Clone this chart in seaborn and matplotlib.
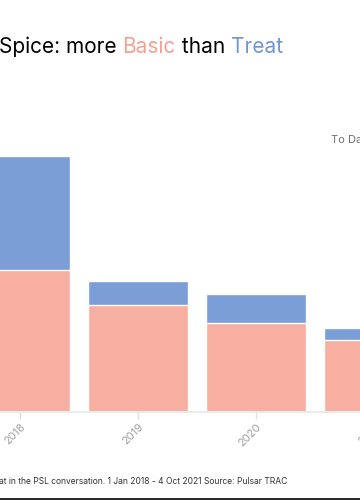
import matplotlib
matplotlib.use("Agg")
import matplotlib.pyplot as plt
from matplotlib.lines import Line2D
import seaborn as sns
import pandas as pd

years = ["2018", "2019", "2020", "2021"]
basic = [141.7, 106.7, 88.7, 71.4]
treat = [114.3, 24.3, 29.3, 12.3]

BASIC_C = "#F7AFA1"
TREAT_C = "#7B9ED6"

sns.set_theme(style="white")
plt.rcParams["font.family"] = ["Inter", "DejaVu Sans"]

df = pd.DataFrame({"year": years, "basic": basic, "treat": treat})
df["total"] = df["basic"] + df["treat"]

W, H = 360, 500
fig = plt.figure(figsize=(W / 100, H / 100), dpi=100)
fig.patch.set_facecolor("white")

# axes placed in pixel geometry (partly outside the canvas, like the cropped reference)
left_px, width_px = -39, 472
bottom_px, height_px = 500 - 411.7, 312
ax = fig.add_axes([left_px / W, bottom_px / H, width_px / W, height_px / H])

sns.barplot(data=df, x="year", y="total", color=TREAT_C, width=0.85,
            saturation=1, edgecolor="white", linewidth=1, ax=ax)
sns.barplot(data=df, x="year", y="basic", color=BASIC_C, width=0.85,
            saturation=1, edgecolor="white", linewidth=1, ax=ax)

ax.set_xlim(-0.5, 3.5)
ax.set_ylim(0, 312)
ax.set_xlabel("")
ax.set_ylabel("")
ax.set_yticks([])
for s in ["top", "right", "left"]:
    ax.spines[s].set_visible(False)
ax.spines["bottom"].set_color("#EBEBEB")
ax.spines["bottom"].set_linewidth(1.5)
ax.tick_params(axis="x", length=5, width=1, color="#E0E0E0", bottom=True,
               labelsize=8, labelcolor="#A0A0A0", pad=2)
for lab in ax.get_xticklabels():
    lab.set_rotation(45)
    lab.set_ha("right")
    lab.set_rotation_mode("anchor")

# Title in colored pieces
TS = 15
t1 = fig.text(-1 / W, 1 - 47 / H, "Spice: more ", fontsize=TS, color="black",
              va="center", ha="left")
t2 = ax.annotate("Basic", xycoords=t1, xy=(1, 0), va="bottom", ha="left",
                 fontsize=TS, color="#F4A193", annotation_clip=False)
t3 = ax.annotate(" than ", xycoords=t2, xy=(1, 0), va="bottom", ha="left",
                 fontsize=TS, color="black", annotation_clip=False)
t4 = ax.annotate("Treat", xycoords=t3, xy=(1, 0), va="bottom", ha="left",
                 fontsize=TS, color="#6F96D8", annotation_clip=False)

fig.text(331 / W, 1 - 140 / H, "To Date", fontsize=8, color="#6E6E6E",
         va="center", ha="left")

fig.text(-1 / W, 1 - 481 / H,
         "at in the PSL conversation. 1 Jan 2018 - 4 Oct 2021 Source: Pulsar TRAC",
         fontsize=6.1, color="#333333", va="center", ha="left")

fig.add_artist(Line2D([0, 1], [1.2 / H, 1.2 / H], color="black", lw=1.2,
                      transform=fig.transFigure))

fig.savefig("out.png", dpi=100, facecolor="white")
